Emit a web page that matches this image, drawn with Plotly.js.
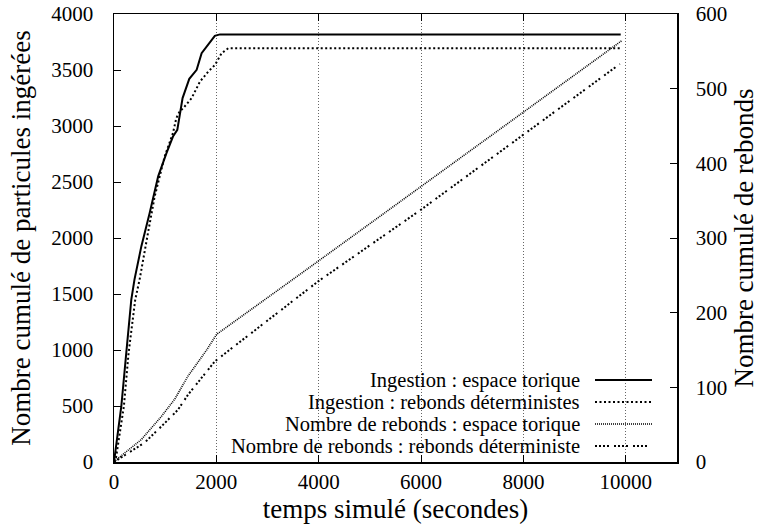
<!DOCTYPE html>
<html>
<head>
<meta charset="utf-8">
<script src="https://cdn.plot.ly/plotly-3.0.1.min.js"></script>
<style>
html,body{margin:0;padding:0;background:#fff;}
#chart{width:760px;height:531px;}
</style>
</head>
<body>
<div id="chart"></div>
<script>
// ---- data ----
var ingTorT = [0, 143, 240, 338, 400, 534, 697, 863, 1025, 1152, 1237, 1289, 1340, 1471, 1615, 1712, 1850, 1970, 2070, 9900];
var ingTorV = [0, 498, 974, 1450, 1628, 1925, 2223, 2550, 2758, 2906, 2966, 3115, 3249, 3421, 3501, 3650, 3735, 3805, 3818, 3818];

var ingDetT = [0, 40, 193, 285, 415, 500, 664, 795, 990, 1152, 1217, 1283, 1354, 1517, 1680, 1842, 1973, 2103, 2233, 9900];
var ingDetV = [0, 40, 498, 974, 1450, 1628, 2045, 2371, 2728, 2937, 3070, 3130, 3160, 3249, 3397, 3486, 3546, 3650, 3695, 3695];

var rebTorT = [0, 45, 534, 925, 1185, 1445, 1810, 2005, 3990, 6000, 9916];
var rebTorV = [0, 3, 30, 61, 84, 115, 150, 171, 269, 369, 564];

var rebDetT = [0, 143, 599, 990, 1250, 1445, 1680, 1973, 3990, 6000, 9883];
var rebDetV = [0, 6, 26, 52, 70, 90, 110, 135, 242, 338, 533];

var xTickVals = [0, 2000, 4000, 6000, 8000, 10000];
var xTickText = ['0', '2000', '4000', '6000', '8000', '10000'];

var seriesNames = [
  'Ingestion : espace torique',
  'Ingestion : rebonds déterministes',
  'Nombre de rebonds : espace torique',
  'Nombre de rebonds : rebonds déterministe'
];
var xTitle = 'temps simulé (secondes)';
var yTitle = 'Nombre cumulé de particules ingérées';
var y2Title = 'Nombre cumulé de rebonds';

// ---- styles ----
var FONT = 'Liberation Serif';
var styles = [
  {color: '#000', width: 2, dash: 'solid'},
  {color: '#000', width: 2, dash: '2px,2.5px'},
  {color: '#000', width: 1.6, dash: '1px,1px'},
  {color: '#000', width: 2, dash: '2px,2px,2px,2px,2px,2px,2px,5px'}
];

var traces = [
  {x: ingTorT, y: ingTorV, yaxis: 'y'},
  {x: ingDetT, y: ingDetV, yaxis: 'y'},
  {x: rebTorT, y: rebTorV, yaxis: 'y2'},
  {x: rebDetT, y: rebDetV, yaxis: 'y2'}
].map(function (t, i) {
  t.type = 'scatter';
  t.mode = 'lines';
  t.name = seriesNames[i];
  t.line = styles[i];
  t.showlegend = false;
  t.hoverinfo = 'skip';
  return t;
});

// ---- custom legend (text right, sample on the right like the original) ----
var L = 114, R = 677, T = 14, B = 462.5;
function px(x) { return (x - L) / (R - L); }
function py(y) { return (B - y) / (B - T); }
var rowY = [380.5, 402.5, 424.5, 446.5];
var annotations = [];
var shapes = [{
  type: 'rect', xref: 'paper', yref: 'paper', layer: 'between',
  x0: px(214), x1: px(664), y0: py(367), y1: py(461.5),
  fillcolor: '#fff', line: {width: 0}
}];
seriesNames.forEach(function (n, i) {
  annotations.push({
    xref: 'paper', yref: 'paper', x: px(581), y: py(rowY[i]),
    xanchor: 'right', yanchor: 'middle', showarrow: false, borderpad: 0,
    text: n, font: {family: FONT, size: 20.5, color: '#000'}
  });
  shapes.push({
    type: 'line', xref: 'paper', yref: 'paper', layer: 'above',
    x0: px(595), x1: px(652), y0: py(rowY[i]), y1: py(rowY[i]),
    line: {color: styles[i].color, width: styles[i].width, dash: styles[i].dash}
  });
});

var tickFont = {family: FONT, size: 21, color: '#000'};
var titleFont = {family: FONT, size: 27, color: '#000'};
var layout = {
  width: 760, height: 531,
  margin: {l: L, r: 760 - R, t: T, b: 531 - B, pad: 0},
  paper_bgcolor: '#fff', plot_bgcolor: '#fff',
  showlegend: false,
  font: {family: FONT, color: '#000'},
  xaxis: {
    range: [0, 11000], tickmode: 'array', tickvals: xTickVals, ticktext: xTickText,
    ticks: 'inside', ticklen: 7, tickwidth: 1, tickcolor: '#000',
    showline: true, linecolor: '#000', linewidth: 1.5, mirror: 'ticks',
    showgrid: true, gridcolor: '#666', gridwidth: 1, griddash: '1px,2px',
    zeroline: false, tickfont: tickFont, ticklabelstandoff: 0,
    title: {text: xTitle, font: titleFont, standoff: 6}
  },
  yaxis: {
    range: [0, 4000], dtick: 500, tick0: 0,
    ticks: 'inside', ticklen: 7, tickwidth: 1, tickcolor: '#000',
    showline: true, linecolor: '#000', linewidth: 1.5,
    showgrid: false, zeroline: false, tickfont: tickFont, ticklabelstandoff: 15,
    title: {text: yTitle, font: titleFont, standoff: 13}
  },
  yaxis2: {
    overlaying: 'y', side: 'right',
    range: [0, 600], dtick: 100, tick0: 0,
    ticks: 'inside', ticklen: 7, tickwidth: 1, tickcolor: '#000',
    showline: true, linecolor: '#000', linewidth: 1.5,
    showgrid: false, zeroline: false, tickfont: tickFont, ticklabelstandoff: 13,
    title: {text: y2Title, font: titleFont, standoff: 8}
  },
  annotations: annotations,
  shapes: shapes
};

Plotly.newPlot('chart', traces, layout, {staticPlot: true, displayModeBar: false});
</script>
</body>
</html>
